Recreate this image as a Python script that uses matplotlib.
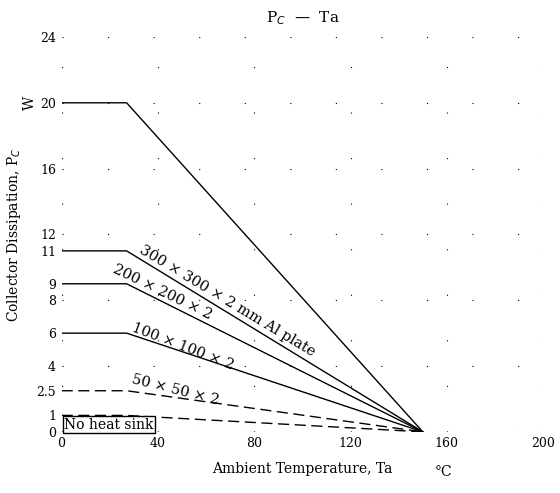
import matplotlib
matplotlib.use('Agg')
import matplotlib.pyplot as plt

plt.rcParams['font.family'] = ['DejaVu Serif']
plt.rcParams['font.size'] = 9

# derating curves: flat power up to t_flat, then linear down to 0 W at t_max
t_flat = 27
t_max = 150
curves = ['Infinite heat sink', '300 × 300 × 2 mm Al plate', '200 × 200 × 2',
          '100 × 100 × 2', '50 × 50 × 2', 'No heat sink']
pc_max = [20, 11, 9, 6, 2.5, 1.0]
styles = ['-', '-', '-', '-', (0, (8, 4)), (0, (8, 4))]

yticks = [0, 4, 8, 12, 16, 20, 24]
extra_ticks = [1, 2.5, 6, 9, 11]
extra_labels = ['1', '2.5', '6', '9', '11']
xticks = [0, 40, 80, 120, 160, 200]

fig = plt.figure(figsize=(5.6, 4.93), dpi=100)
ax = fig.add_axes([0.11, 0.124, 0.86, 0.801])

for name, p, ls in zip(curves, pc_max, styles):
    ax.plot([0, t_flat, t_max], [p, p, 0], color='black', linewidth=1.0,
            linestyle=ls)

ax.set_xlim(0, 200)
ax.set_ylim(0, 24)
ax.set_xticks(xticks)
ax.set_yticks(yticks)
ax.set_yticks(extra_ticks, minor=True)
ax.set_yticklabels(extra_labels, minor=True)
ax.tick_params(which='both', length=0, pad=4)
for s in ax.spines.values():
    s.set_visible(False)
ax.grid(True, which='major', color='black', linestyle=(0, (1, 40)),
        linewidth=0.8)

# labels along the lines
fs = 10.5
ax.text(32, 10.9, curves[1], rotation=-31,
        rotation_mode='anchor', fontsize=fs)
ax.text(21, 9.7, curves[2], rotation=-26,
        rotation_mode='anchor', fontsize=fs)
ax.text(29, 6.1, curves[3], rotation=-21, rotation_mode='anchor',
        fontsize=fs)
ax.text(29, 3.0, curves[4], rotation=-14, rotation_mode='anchor',
        fontsize=fs)
ax.text(1, 0.2, curves[5], fontsize=10,
        bbox=dict(boxstyle='square,pad=0.1', fc='white', ec='black', lw=1))

ax.set_xlabel('Ambient Temperature, Ta', fontsize=10, labelpad=8)
ax.text(155, -2.45, '°C', fontsize=10, va='center')
ax.set_ylabel('Collector Dissipation, P$_C$', fontsize=10, labelpad=10)
ax.text(-16, 20, 'W', rotation=90, fontsize=10, va='center')
fig.text(0.54, 0.955, 'P$_C$  —  Ta', ha='center', fontsize=11)

plt.savefig('out.png', dpi=100)
